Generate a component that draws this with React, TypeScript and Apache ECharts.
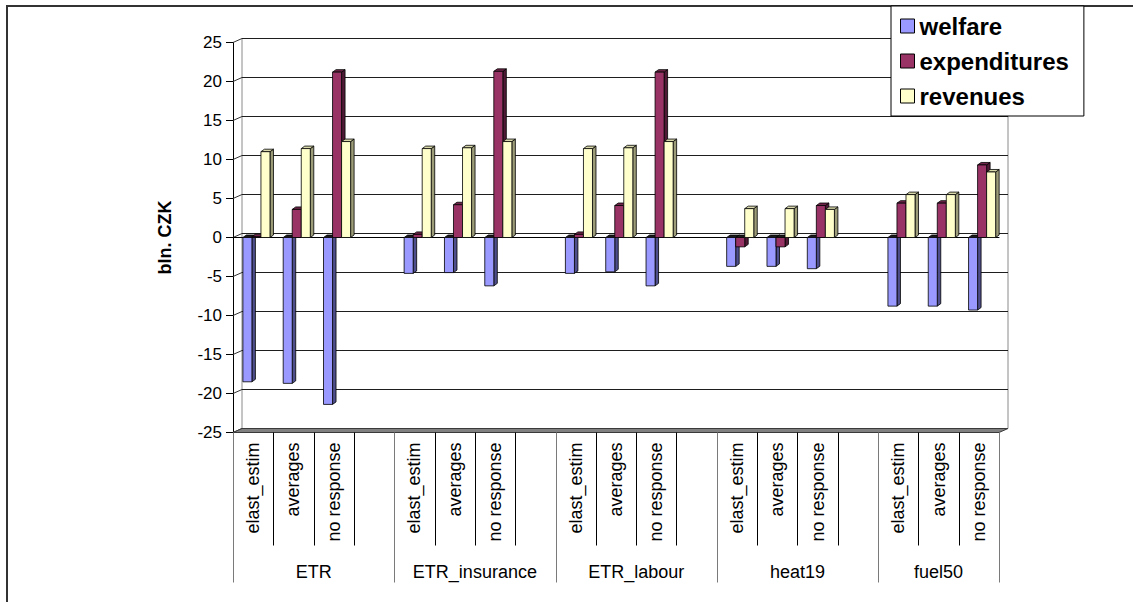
import React, { useEffect, useRef } from "react";
import * as echarts from "echarts";

// Policy scenarios (groups) and response assumptions (bars inside each group)
const groups = ["ETR", "ETR_insurance", "ETR_labour", "heat19", "fuel50"];
const scenarios = ["elast_estim", "averages", "no response"];

// bln. CZK, ordered group by group, scenario by scenario
const welfare = [-18.5, -18.7, -21.4, -4.6, -4.5, -6.2, -4.6, -4.4, -6.2, -3.7, -3.7, -4.0, -8.8, -8.8, -9.3];
const expenditures = [0.1, 3.6, 21.2, 0.4, 4.2, 21.3, 0.4, 4.1, 21.2, -1.2, -1.2, 4.1, 4.4, 4.4, 9.3];
const revenues = [11.0, 11.4, 12.3, 11.4, 11.5, 12.3, 11.4, 11.5, 12.3, 3.7, 3.7, 3.6, 5.5, 5.5, 8.4];

const yTicks = [-25, -20, -15, -10, -5, 0, 5, 10, 15, 20, 25];

const FONT = "Arial, 'Liberation Sans', Helvetica, sans-serif";

// front plane of the plot and the depth offset of the back wall
const FRONT = { left: 233, top: 42.5, width: 766, height: 390 };
const DEPTH = { dx: 9, dy: 4 };
const SLOT_LINE = 113;
const GROUP_LINE = 150;

// one slot per scenario plus an empty spacer slot between groups
const slotLabels: string[] = [];
groups.forEach((g, gi) => {
  scenarios.forEach((s) => slotLabels.push(s));
  if (gi < groups.length - 1) slotLabels.push("");
});
const slotIndex = (gi: number, si: number) => gi * 4 + si;
const groupStarts = groups.map((_, gi) => gi * 4);
const groupEnds = groups.map((_, gi) => (gi < groups.length - 1 ? gi * 4 + 4 : slotLabels.length));
const groupCenters = groups.map((_, gi) => (groupStarts[gi] + groupEnds[gi]) / 2);

const toData = (values: number[]) =>
  values.map((v, i) => [slotIndex(Math.floor(i / 3), i % 3), v]);

const seriesDefs = [
  { name: "welfare", values: welfare, front: "#9999FF", side: "#4E4E8C", top: "#2B2B55" },
  { name: "expenditures", values: expenditures, front: "#993366", side: "#4F1A35", top: "#6E2549" },
  { name: "revenues", values: revenues, front: "#FFFFCC", side: "#9C9C78", top: "#D8D8AA" },
];

const BAR_DX = 3.5;
const BAR_DY = 2.5;

function makeRender(k: number, front: string, side: string, top: string) {
  return (params: any, api: any) => {
    const idx = api.value(0);
    const v = api.value(1);
    const base = api.coord([idx, 0]);
    const end = api.coord([idx, v]);
    const slot = api.size([1, 0])[0];
    const bw = slot * 0.224;
    const x0 = base[0] - slot * 0.255 + k * bw;
    const yTop = Math.min(base[1], end[1]);
    const yBot = Math.max(base[1], end[1]);
    const edge = { stroke: "#000", lineWidth: 0.8 };
    return {
      type: "group",
      children: [
        {
          type: "polygon",
          shape: {
            points: [
              [x0 + bw, yTop],
              [x0 + bw + BAR_DX, yTop - BAR_DY],
              [x0 + bw + BAR_DX, yBot - BAR_DY],
              [x0 + bw, yBot],
            ],
          },
          style: { fill: side, ...edge },
        },
        {
          type: "polygon",
          shape: {
            points: [
              [x0, yTop],
              [x0 + BAR_DX, yTop - BAR_DY],
              [x0 + bw + BAR_DX, yTop - BAR_DY],
              [x0 + bw, yTop],
            ],
          },
          style: { fill: v >= 0 ? top : "#1a1a1a", ...edge },
        },
        {
          type: "rect",
          shape: { x: x0, y: yTop, width: bw, height: yBot - yTop },
          style: { fill: front, ...edge },
        },
      ],
    };
  };
}

export default function App() {
  const ref = useRef<HTMLDivElement>(null);

  useEffect(() => {
    if (!ref.current) return;
    const chart = echarts.init(ref.current, null, { renderer: "svg" });

    const option: any = {
      animation: false,
      backgroundColor: "#ffffff",
      textStyle: { fontFamily: FONT },
      grid: [
        { left: FRONT.left, top: FRONT.top, width: FRONT.width, height: FRONT.height },
        {
          left: FRONT.left + DEPTH.dx,
          top: FRONT.top - DEPTH.dy,
          width: FRONT.width,
          height: FRONT.height,
          show: true,
          borderColor: "#8a8a8a",
          borderWidth: 1,
          backgroundColor: "transparent",
        },
      ],
      xAxis: [
        {
          type: "category",
          gridIndex: 0,
          data: slotLabels,
          boundaryGap: true,
          axisLine: { show: true, lineStyle: { color: "#000", width: 1 } },
          axisTick: { show: false },
          axisLabel: {
            interval: 0,
            rotate: 90,
            margin: 10,
            fontSize: 18,
            color: "#000",
            fontFamily: FONT,
          },
          splitLine: { show: false },
          splitArea: { show: false },
        },
        {
          type: "value",
          gridIndex: 0,
          position: "bottom",
          min: 0,
          max: slotLabels.length,
          axisLine: { show: false },
          axisTick: { show: false },
          minorTick: { show: false },
          splitLine: { show: false },
          minorSplitLine: { show: false },
          axisLabel: {
            show: true,
            margin: 130,
            fontSize: 18,
            color: "#000",
            fontFamily: FONT,
            customValues: groupCenters,
            formatter: (val: number) => {
              const gi = groupCenters.findIndex((c) => Math.abs(c - val) < 0.01);
              return gi >= 0 ? groups[gi] : "";
            },
          },
        },
        {
          type: "category",
          gridIndex: 1,
          data: slotLabels,
          show: false,
          axisLine: { show: false },
          axisTick: { show: false },
          axisLabel: { show: false },
          splitLine: { show: false },
        },
      ],
      yAxis: [
        {
          type: "value",
          gridIndex: 0,
          min: -25,
          max: 25,
          interval: 5,
          name: "bln. CZK",
          nameLocation: "middle",
          nameGap: 59,
          nameTextStyle: { fontSize: 18, fontWeight: "bold", color: "#000", fontFamily: FONT },
          axisLine: { show: true, lineStyle: { color: "#000", width: 1 } },
          axisTick: { show: true, length: 7, lineStyle: { color: "#000", width: 1 } },
          axisLabel: { fontSize: 17, color: "#000", margin: 11, fontFamily: FONT },
          splitLine: { show: false },
        },
        {
          type: "value",
          gridIndex: 1,
          min: -25,
          max: 25,
          interval: 5,
          axisLine: { show: false },
          axisTick: { show: false },
          axisLabel: { show: false },
          splitLine: { show: true, lineStyle: { color: "#1e1e1e", width: 1 } },
        },
      ],
      legend: {
        left: 891,
        top: 6,
        orient: "vertical",
        icon: "rect",
        itemWidth: 14,
        itemHeight: 14,
        itemGap: 11,
        padding: [8, 15, 8, 9],
        backgroundColor: "#fff",
        borderColor: "#000",
        borderWidth: 1,
        borderRadius: 0,
        textStyle: { fontSize: 24, fontWeight: "bold", color: "#000", fontFamily: FONT, lineHeight: 24 },
        data: seriesDefs.map((s) => ({
          name: s.name,
          itemStyle: { color: s.front, borderColor: "#000", borderWidth: 1 },
        })),
      },
      series: seriesDefs.map((s, k) => ({
        name: s.name,
        type: "custom",
        xAxisIndex: 0,
        yAxisIndex: 0,
        clip: false,
        z: 3,
        itemStyle: { color: s.front },
        renderItem: makeRender(k, s.front, s.side, s.top),
        data: toData(s.values),
      })),
    };

    chart.setOption(option);

    // walls, floor, zero line and the category separators, placed through the axes
    const yF = (v: number) => chart.convertToPixel({ yAxisIndex: 0 }, v) as number;
    const yB = (v: number) => chart.convertToPixel({ yAxisIndex: 1 }, v) as number;
    const xS = (s: number) => chart.convertToPixel({ xAxisIndex: 1 }, s) as number;
    const fl = FRONT.left;
    const fr = FRONT.left + FRONT.width;
    const bl = fl + DEPTH.dx;
    const br = fr + DEPTH.dx;
    const yFloor = yF(-25);

    const graphics: any[] = [
      {
        type: "rect",
        silent: true,
        z: 0,
        shape: { x: 7, y: 6, width: 1300, height: 800 },
        style: { fill: "none", stroke: "#333", lineWidth: 2 },
      },
    ];
    yTicks.forEach((v) => {
      graphics.push({
        type: "line",
        silent: true,
        z: 1,
        shape: { x1: fl, y1: yF(v), x2: bl, y2: yB(v) },
        style: { stroke: "#333", lineWidth: 1 },
      });
    });
    graphics.push({
      type: "polygon",
      silent: true,
      z: 1,
      shape: {
        points: [
          [fl, yFloor],
          [fr, yFloor],
          [br, yB(-25)],
          [bl, yB(-25)],
        ],
      },
      style: { fill: "#808080", stroke: "#3a3a3a", lineWidth: 1 },
    });
    graphics.push({
      type: "line",
      silent: true,
      z: 1,
      shape: { x1: fl, y1: yF(0), x2: fr, y2: yF(0) },
      style: { stroke: "#000", lineWidth: 1 },
    });
    const boundaries = new Set([...groupStarts, slotLabels.length]);
    for (let s = 0; s <= slotLabels.length; s++) {
      const isGroup = boundaries.has(s);
      const x = Math.round(xS(s)) + 0.5;
      graphics.push({
        type: "line",
        silent: true,
        z: 1,
        shape: { x1: x, y1: yFloor, x2: x, y2: yFloor + (isGroup ? GROUP_LINE : SLOT_LINE) },
        style: { stroke: isGroup ? "#7a7a7a" : "#000", lineWidth: 1 },
      });
    }

    chart.setOption({ graphic: graphics });

    return () => chart.dispose();
  }, []);

  return (
    <div
      ref={ref}
      style={{ position: "absolute", left: 0, top: 0, width: 1133, height: 602, background: "#fff" }}
    />
  );
}
